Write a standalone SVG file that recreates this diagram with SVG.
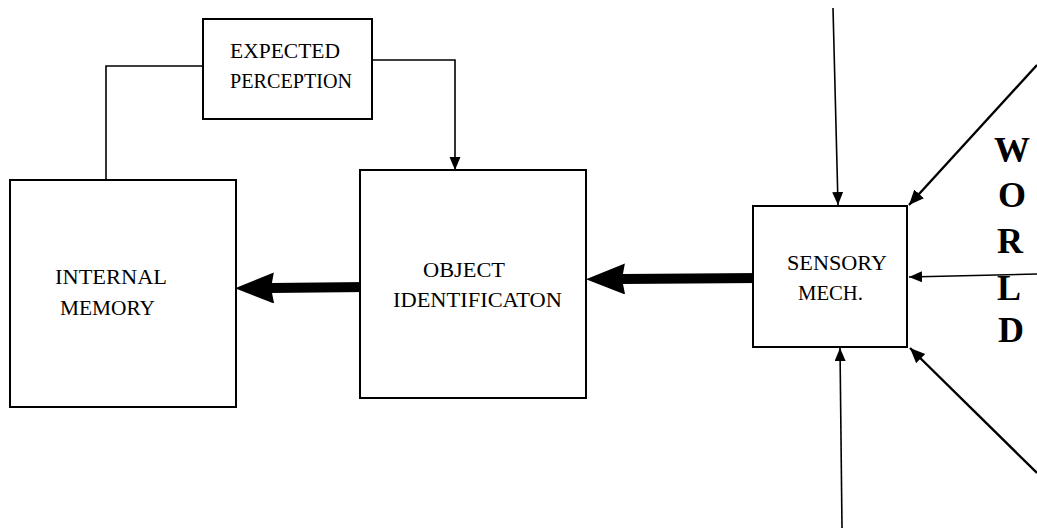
<svg xmlns="http://www.w3.org/2000/svg" width="1037" height="531" viewBox="0 0 1037 531">
<style>
.box{fill:#fff;stroke:#000;stroke-width:2}
.lbl{font-family:"Liberation Serif","Times New Roman",serif;font-size:21px;fill:#000}
.world{font-family:"Liberation Serif","Times New Roman",serif;font-size:36px;font-weight:bold;fill:#000;text-anchor:middle}
.thin{fill:none;stroke:#000;stroke-width:1.6}
.diag{fill:none;stroke:#000;stroke-width:2.4}
.thick{fill:none;stroke:#000;stroke-width:10}
</style>
<defs>
<marker id="ah" markerUnits="userSpaceOnUse" markerWidth="14" markerHeight="12" refX="13" refY="5.5" orient="auto">
<path d="M0,0 L13,5.5 L0,11 z" fill="#000"/>
</marker>
<marker id="ahd" markerUnits="userSpaceOnUse" markerWidth="16" markerHeight="14" refX="15" refY="6.5" orient="auto">
<path d="M0,0 L15,6.5 L0,13 z" fill="#000"/>
</marker>
<marker id="big" markerUnits="userSpaceOnUse" markerWidth="40" markerHeight="32" refX="3" refY="15.5" orient="auto">
<path d="M0,0 L39,15.5 L0,31 L3,15.5 z" fill="#000"/>
</marker>
</defs>
<rect width="1037" height="531" fill="#fff"/>
<g id="connectors">
<polyline class="thin" points="203,66 106,66 106,180"/>
<polyline class="thin" points="372,60 455,60 455,170" marker-end="url(#ah)"/>
<line class="thick" x1="367" y1="287" x2="271" y2="288" marker-end="url(#big)"/>
<line class="thick" x1="760" y1="278" x2="622" y2="279" marker-end="url(#big)"/>
<line class="thin" x1="833" y1="8" x2="838" y2="205" marker-end="url(#ah)"/>
<line class="thin" x1="842" y1="528" x2="840" y2="348" marker-end="url(#ah)"/>
<line class="diag" x1="1037" y1="65" x2="909" y2="205" marker-end="url(#ahd)"/>
<line class="thin" x1="1037" y1="274" x2="909" y2="277" marker-end="url(#ah)"/>
<line class="diag" x1="1037" y1="473" x2="910" y2="348" marker-end="url(#ahd)"/>
</g>
<g id="expected-perception">
<rect class="box" x="203" y="19" width="169" height="100"/>
<text class="lbl" x="230" y="58" textLength="110" lengthAdjust="spacingAndGlyphs">EXPECTED</text>
<text class="lbl" x="230" y="88" textLength="122" lengthAdjust="spacingAndGlyphs">PERCEPTION</text>
</g>
<g id="internal-memory">
<rect class="box" x="10" y="180" width="226" height="227"/>
<text class="lbl" x="55" y="284" textLength="112" lengthAdjust="spacingAndGlyphs">INTERNAL</text>
<text class="lbl" x="60" y="315" textLength="95" lengthAdjust="spacingAndGlyphs">MEMORY</text>
</g>
<g id="object-identification">
<rect class="box" x="360" y="170" width="226" height="228"/>
<text class="lbl" x="423" y="277" textLength="82" lengthAdjust="spacingAndGlyphs">OBJECT</text>
<text class="lbl" x="393" y="307" textLength="169" lengthAdjust="spacingAndGlyphs">IDENTIFICATON</text>
</g>
<g id="sensory-mech">
<rect class="box" x="753" y="206" width="154" height="141"/>
<text class="lbl" x="787" y="270" textLength="100" lengthAdjust="spacingAndGlyphs">SENSORY</text>
<text class="lbl" x="798" y="300" textLength="65" lengthAdjust="spacingAndGlyphs">MECH.</text>
</g>
<g id="world">
<text class="world" x="1012" y="162">W</text>
<text class="world" x="1012" y="207">O</text>
<text class="world" x="1010" y="253">R</text>
<text class="world" x="1009" y="300">L</text>
<text class="world" x="1011" y="342">D</text>
</g>
</svg>
